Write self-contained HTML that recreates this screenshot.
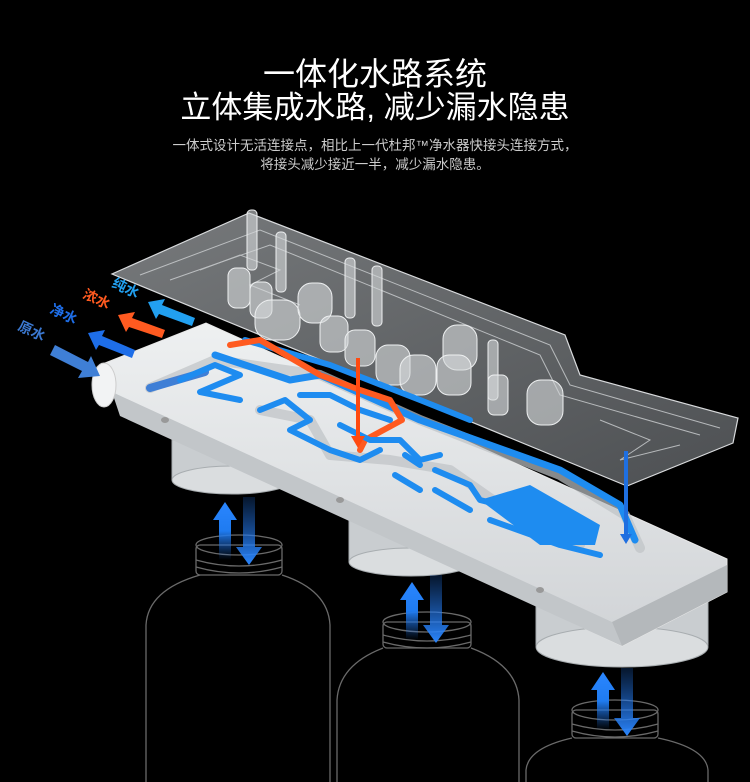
<!DOCTYPE html>
<html><head><meta charset="utf-8">
<style>
html,body{margin:0;padding:0;background:#000;}
body{width:750px;height:782px;overflow:hidden;position:relative;font-family:"Liberation Sans","Noto Sans CJK SC",sans-serif;}
.t1{position:absolute;top:56px;left:0;width:750px;text-align:center;color:#fff;font-size:32px;line-height:36px;}
.t2{position:absolute;top:90px;left:0;width:750px;text-align:center;color:#fff;font-size:31px;line-height:36px;}
.s{position:absolute;left:0;width:750px;text-align:center;color:#ccc;font-size:13.5px;line-height:18px;}
svg{position:absolute;left:0;top:0;}
</style></head><body>
<svg width="750" height="782" viewBox="0 0 750 782">
<defs>
<linearGradient id="wb" x1="0" y1="0" x2="0" y2="1"><stop offset="0" stop-color="#eef0f1"/><stop offset="1" stop-color="#d0d3d6"/></linearGradient>
<linearGradient id="pl" x1="0" y1="0" x2="1" y2="1"><stop offset="0" stop-color="#a9adb0"/><stop offset="1" stop-color="#6e7276"/></linearGradient>
<linearGradient id="ua" x1="0" y1="1" x2="0" y2="0"><stop offset="0" stop-color="#1f6fe0" stop-opacity="0"/><stop offset="0.5" stop-color="#1f7bf0"/><stop offset="1" stop-color="#2a86ff"/></linearGradient>
<linearGradient id="da" x1="0" y1="0" x2="0" y2="1"><stop offset="0" stop-color="#1f6fe0" stop-opacity="0.2"/><stop offset="1" stop-color="#2a86ff"/></linearGradient>
</defs>
<!-- bottles -->
<g fill="none" stroke="#6a6a6a" stroke-width="1.3">
<path d="M146 782 V625 Q148 590 200 575 M282 575 Q328 590 330 625 V782"/>
<rect x="196" y="545" width="86" height="30" rx="4"/><ellipse cx="239" cy="545" rx="43" ry="10"/><path d="M196 560 Q239 572 282 560 M196 567 Q239 579 282 567"/>
<path d="M337 782 V700 Q339 665 383 648 M471 648 Q517 665 519 700 V782"/>
<rect x="383" y="622" width="88" height="26" rx="4"/><ellipse cx="427" cy="622" rx="44" ry="10"/><path d="M383 635 Q427 647 471 635 M383 642 Q427 654 471 642"/>
<path d="M526 782 V770 Q528 748 572 738 M658 738 Q706 748 708 770 V782"/>
<rect x="572" y="710" width="86" height="28" rx="4"/><ellipse cx="615" cy="710" rx="43" ry="10"/><path d="M572 724 Q615 736 658 724 M572 731 Q615 743 658 731"/>
</g>
<!-- cylinders under base -->
<g fill="#c9cdd0" stroke="#a8adb0">
<rect x="172" y="440" width="120" height="40"/><ellipse cx="232" cy="480" rx="60" ry="14" fill="#dadddf"/>
<rect x="349" y="520" width="125" height="42"/><ellipse cx="411" cy="562" rx="62" ry="14" fill="#dadddf"/>
<rect x="536" y="600" width="172" height="45"/><ellipse cx="622" cy="647" rx="86" ry="20" fill="#dadddf"/>
</g>
<!-- up/down arrows -->
<g>
<path d="M219 560 V520 h-6 l12 -18 l12 18 h-6 v40z" fill="url(#ua)"/><path d="M243 497 v50 h-7 l13 18 l13 -18 h-7 v-50z" fill="url(#da)"/>
<path d="M406 640 V600 h-6 l12 -18 l12 18 h-6 v40z" fill="url(#ua)"/><path d="M430 575 v50 h-7 l13 18 l13 -18 h-7 v-50z" fill="url(#da)"/>
<path d="M597 730 V690 h-6 l12 -18 l12 18 h-6 v40z" fill="url(#ua)"/><path d="M621 668 v50 h-7 l13 18 l13 -18 h-7 v-50z" fill="url(#da)"/>
</g>
<!-- clear plate -->
<polygon points="249,213 565,335 580,375 738,418 733,443 627,486 112,274" fill="url(#pl)" fill-opacity="0.7" stroke="#d8dadc" stroke-width="1.2"/>
<g fill="none" stroke="#cfd2d4" stroke-width="1" opacity="0.8">
<path d="M140 275 L260 230 L550 345 L570 385 L720 428"/>
<path d="M170 280 L270 245 L540 355 L560 395 L700 435"/>
<path d="M200 270 L240 255 L280 270 L250 285 L300 305"/>
<path d="M600 420 L650 440 L620 460 L680 445"/>
</g>
<g fill="#d5d8da" fill-opacity="0.6" stroke="#eef0f1" stroke-width="1">
<rect x="228" y="268" width="22" height="40" rx="8"/><rect x="250" y="282" width="22" height="36" rx="8"/>
<rect x="255" y="300" width="45" height="40" rx="16"/><rect x="298" y="283" width="34" height="40" rx="14"/>
<rect x="320" y="316" width="28" height="36" rx="10"/><rect x="345" y="330" width="30" height="36" rx="10"/>
<rect x="376" y="345" width="34" height="40" rx="12"/><rect x="400" y="355" width="36" height="40" rx="14"/>
<rect x="443" y="325" width="34" height="45" rx="14"/><rect x="437" y="355" width="34" height="40" rx="12"/>
<rect x="527" y="380" width="36" height="45" rx="14"/><rect x="247" y="210" width="10" height="60" rx="4"/><rect x="276" y="232" width="10" height="60" rx="4"/>
<rect x="345" y="258" width="10" height="60" rx="4"/><rect x="372" y="266" width="10" height="60" rx="4"/><rect x="488" y="340" width="10" height="60" rx="4"/><rect x="488" y="375" width="20" height="40" rx="6"/>
</g>
<!-- white base -->
<polygon points="100,365 206,323 727,559 727,592 622,646 120,408" fill="url(#wb)" stroke="#e8e8e8"/>
<polygon points="112,392 612,622 622,646 120,416" fill="#c2c6c9"/>
<polygon points="612,622 727,565 727,592 622,646" fill="#b4b8bb"/>
<ellipse cx="104" cy="385" rx="12" ry="22" fill="#f2f3f4" stroke="#ccc"/>
<ellipse cx="165" cy="420" rx="4" ry="3" fill="#999"/><ellipse cx="340" cy="500" rx="4" ry="3" fill="#999"/><ellipse cx="540" cy="590" rx="4" ry="3" fill="#999"/>
<!-- channel walls -->
<g fill="none" stroke="#bfc3c6" stroke-width="10" stroke-linecap="round" stroke-linejoin="round" opacity="0.7">
<path d="M150 388 L215 360 L320 375 L420 420 L560 475 L625 515 L640 548"/>
<path d="M260 410 L310 420 L330 455 L390 460 L450 470 L500 505 L580 545"/>
</g>
<!-- channels -->
<g fill="none" stroke-linecap="round" stroke-linejoin="round">
<path d="M150 388 L205 372" stroke="#3f7fd6" stroke-width="8"/>
<path d="M180 380 L215 365 L240 375 L200 392 L240 400" stroke="#1e8cf0" stroke-width="6"/>
<path d="M215 355 L290 380 L320 375 L420 420 L560 470 L620 505 L635 540" stroke="#1e8cf0" stroke-width="7"/>
<path d="M245 340 L330 365 L420 400 L470 420" stroke="#1e8cf0" stroke-width="6"/>
<path d="M230 345 L260 340 L320 375 L360 390 L390 400 L402 420 L365 440 L360 450" stroke="#ff5a20" stroke-width="6"/>
<path d="M300 395 L330 395 L360 410 L390 420" stroke="#1e8cf0" stroke-width="6"/>
<path d="M260 410 L285 400 L310 420 L290 430 L330 450 L360 460 L380 450" stroke="#1e8cf0" stroke-width="6"/>
<path d="M340 425 L370 440 L400 440 L420 460 L440 455" stroke="#1e8cf0" stroke-width="6"/>
<path d="M405 455 L420 465 M395 475 L420 490" stroke="#1e8cf0" stroke-width="6"/>
<path d="M435 470 L470 485 L480 500 L500 505 M435 490 L470 510" stroke="#1e8cf0" stroke-width="6"/>
<path d="M490 520 L560 545 L600 555" stroke="#1e8cf0" stroke-width="6"/>
</g>
<polygon points="480,500 530,485 600,525 595,545 540,545" fill="#1e8cf0"/>
<path d="M356 448 V370 h-5 l7 -12 l7 12 h-5 v78z" fill="#ff4a10" transform="rotate(180 358 403)"/>
<path d="M624 545 V462 h-4 l6 -10 l6 10 h-4 v83z" fill="#1f6fe0" transform="rotate(180 626 498)"/>
<!-- side arrows -->
<g>
<path d="M55 345 L88 362 L91 356 L100 376 L78 378 L82 371 L50 355z" fill="#3f7fd6"/>
<path d="M135 350 L102 336 L105 330 L88 333 L96 350 L99 345 L132 358z" fill="#1e6ee8"/>
<path d="M165 330 L132 318 L135 312 L118 315 L126 332 L129 327 L162 338z" fill="#ff5a20"/>
<path d="M195 318 L162 305 L165 299 L148 302 L156 319 L159 314 L192 326z" fill="#22a0f0"/>
</g>
<g font-family="Liberation Sans,Noto Sans CJK SC,sans-serif" font-size="14" font-weight="bold">
<text x="18" y="335" fill="#3b78d0" transform="rotate(25 30 330)">原水</text>
<text x="50" y="318" fill="#1e6ee8" transform="rotate(25 62 313)">净水</text>
<text x="83" y="303" fill="#ff5a20" transform="rotate(25 95 298)">浓水</text>
<text x="112" y="292" fill="#22a0f0" transform="rotate(25 124 287)">纯水</text>
</g>
</svg>
<div class="t1">一体化水路系统</div>
<div class="t2">立体集成水路, 减少漏水隐患</div>
<div class="s" style="top:137px">一体式设计无活连接点，相比上一代杜邦™净水器快接头连接方式，</div>
<div class="s" style="top:156px">将接头减少接近一半，减少漏水隐患。</div>
</body></html>
